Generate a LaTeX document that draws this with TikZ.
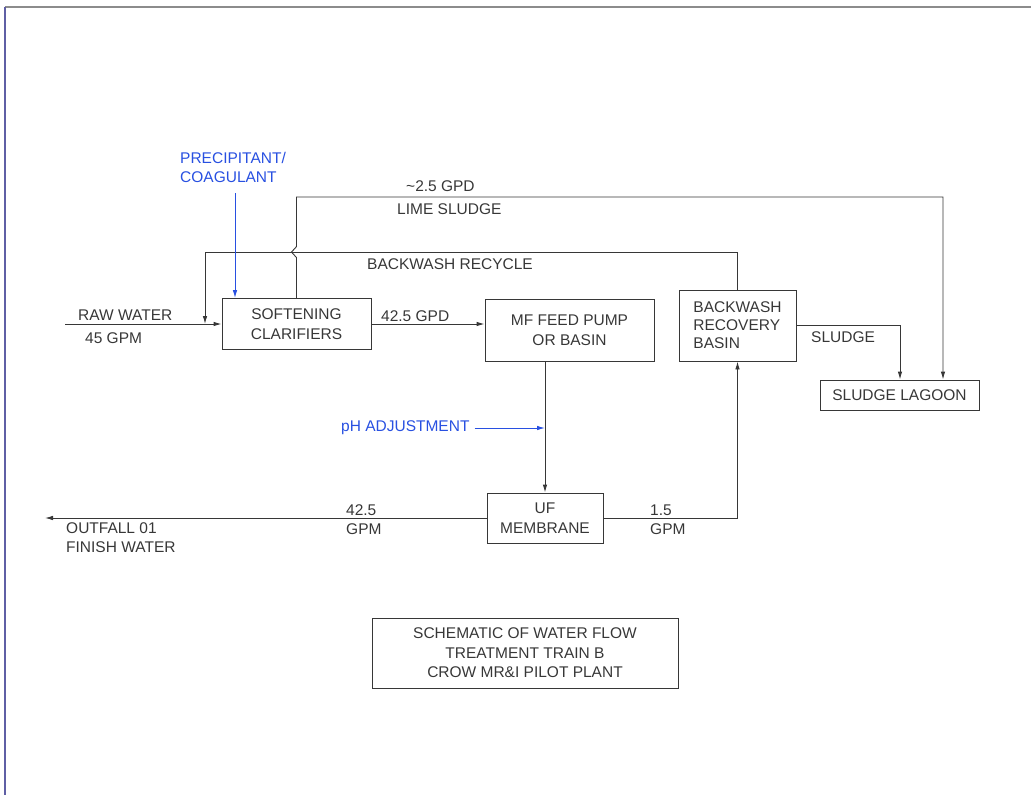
\documentclass[tikz,border=0pt]{standalone}
\usepackage{fontspec}
\setmainfont{Liberation Sans}
\usepackage{tikz}
\usetikzlibrary{arrows.meta}
\definecolor{inkgray}{RGB}{55,55,55}
\definecolor{addblue}{RGB}{40,80,225}
\definecolor{framegray}{RGB}{140,140,140}
\definecolor{frameblue}{RGB}{95,95,165}

\begin{document}
\begin{tikzpicture}[
            x=1pt,y=-1pt,
            font=\fontsize{15.5}{19.5}\selectfont,
            unit/.style={draw=inkgray,line width=0.9pt,text=inkgray,align=center,inner sep=2pt},
            lbl/.style={text=inkgray,anchor=west,align=left,inner sep=0pt},
            addlbl/.style={text=addblue,anchor=west,align=left,inner sep=0pt},
            arrow/.style={draw=inkgray,line width=0.9pt,-{Latex[length=8pt,width=4.5pt]}},
            addarrow/.style={draw=addblue,line width=0.9pt,-{Latex[length=8pt,width=4.5pt]}}
        ]
            \useasboundingbox (0,0) rectangle (1031,795);
            % sheet border
            \draw[framegray,line width=1.6pt] (5,7) -- (1031,7);
            \draw[frameblue,line width=1.6pt] (5,7) -- (5,795);

            % process units
            \node[unit,minimum width=149pt,minimum height=51pt] (soft) at (296.5,324) {SOFTENING\\CLARIFIERS};
            \node[unit,minimum width=169pt,minimum height=62pt] (mf) at (569.5,330) {MF FEED PUMP\\OR BASIN};
            \node[unit,minimum width=117pt,minimum height=71pt,align=left,font=\fontsize{15.5}{18}\selectfont] (bwr) at (737.5,325.5) {BACKWASH\\RECOVERY\\BASIN};
            \node[unit,minimum width=159pt,minimum height=30pt] (lagoon) at (899.5,395) {SLUDGE LAGOON};
            \node[unit,minimum width=116pt,minimum height=50pt] (uf) at (545,518) {UF\\MEMBRANE};
            \node[unit,minimum width=306pt,minimum height=70pt] (title) at (525,653) {SCHEMATIC OF WATER FLOW\\TREATMENT TRAIN B\\CROW MR\&I PILOT PLANT};

            % stream labels
            \node[lbl] (rawlbl) at (78,315) {RAW WATER};
            \node[lbl] (rawflow) at (85,338) {45 GPM};
            \node[addlbl] (precip) at (180,167.5) {PRECIPITANT/\\COAGULANT};
            \node[lbl] (limeflow) at (406,186) {\textasciitilde2.5 GPD};
            \node[lbl] (limelbl) at (397,209) {LIME SLUDGE};
            \node[lbl] (recyclbl) at (367,264) {BACKWASH RECYCLE};
            \node[lbl] (feedlbl) at (381,316) {42.5 GPD};
            \node[lbl] (sludgelbl) at (811,337) {SLUDGE};
            \node[addlbl,inner sep=5pt] (ph) at (336,428) {pH ADJUSTMENT};
            \node[lbl] (finflow) at (346,519.5) {42.5\\GPM};
            \node[lbl] (bwflow) at (650,519.5) {1.5\\GPM};
            \node[lbl] (outlbl) at (66,537.5) {OUTFALL 01\\FINISH WATER};

            \coordinate (rawin) at (65,324);
            \coordinate (mix) at (205,324);
            \coordinate (outfall) at (45,518);

            % flows
            \draw[arrow] (rawin) -- (soft.west);
            \draw[arrow] (soft.east) -- (mf.west |- soft.east);
            \draw[arrow] (bwr.north) |- (205,252) -- (mix);
            \draw[arrow] (soft.north) -- ++(0,-40.5) -- ++(-5,-5.5) -- ++(5,-5.5) |- (943,197) -- (lagoon.north -| 943,197);
            \draw[arrow] (bwr.east) -| (lagoon.north -| 900,0);
            \draw[arrow] (mf.south -| uf.north) -- (uf.north);
            \draw[arrow] (uf.west) -- (outfall);
            \draw[arrow] (uf.east) -| (bwr.south);
            \draw[addarrow] (235,193) -- (soft.north -| 235,0);
            \draw[addarrow] (ph.east) -- (uf.north |- ph.east);
        \end{tikzpicture}
\end{document}
